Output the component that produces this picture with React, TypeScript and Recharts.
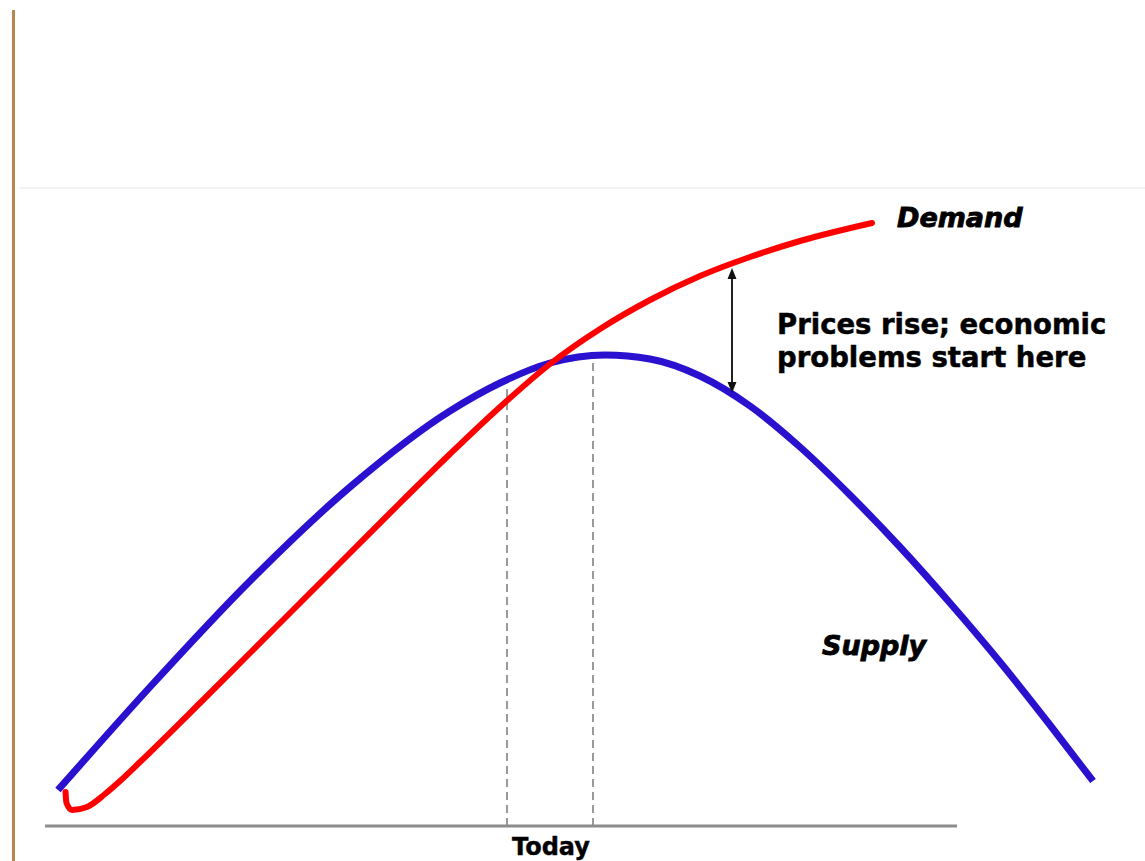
import React from 'react';
import { LineChart, Line, XAxis, YAxis, ReferenceLine, ReferenceDot } from 'recharts';

// Supply curve (time units, level units)
const supplyTime = [1.3, 10.5, 20.5, 30.5, 40.5, 45.5, 50.5, 56.0, 60.5, 65.5, 70.5, 75.5, 80.5, 85.5, 90.5, 95.5, 100.5, 104.8];
const supplyLevel = [3.6, 13.9, 24.5, 33.9, 41.5, 44.3, 46.3, 47.1, 46.7, 45.0, 42.0, 37.9, 33.1, 27.9, 22.3, 16.4, 10.1, 4.5];

// Demand curve
const demandTime = [2.05, 2.15, 2.7, 4.2, 6.0, 7.5, 9.5, 15.5, 20.5, 25.5, 30.5, 35.5, 40.5, 45.5, 50.5, 55.5, 60.5, 65.5, 70.5, 75.5, 82.7];
const demandLevel = [3.4, 2.3, 1.6, 1.9, 3.2, 4.5, 6.4, 12.3, 17.3, 22.3, 27.3, 32.3, 37.2, 41.9, 46.2, 49.7, 52.6, 55.0, 56.9, 58.5, 60.3];

// Axis tick
const tickTimes = [50.6];
const tickLabels = ['Today'];

// Dashed guide lines (time, level where they meet the supply curve)
const guideTimes = [46.2, 54.8];
const guideTops = [44.2, 46.7];

// Gap arrow (time, demand level, supply level)
const gapTime = 68.7;
const gapDemand = 55.8;
const gapSupply = 43.3;

const axisEnd = 91.2;

const supplyData = supplyTime.map((t, i) => ({ t, v: supplyLevel[i] }));
const demandData = demandTime.map((t, i) => ({ t, v: demandLevel[i] }));

const FONT = "'DejaVu Sans', Arial, sans-serif";

const textShape = (lines: string[], italic: boolean, size: number, lh = 33) => (p: any) => (
  <text
    x={p.cx}
    y={p.cy}
    fill="#000"
    stroke="#000"
    strokeWidth={italic ? 0.9 : 0.5}
    fontFamily={FONT}
    fontWeight="bold"
    fontStyle={italic ? 'italic' : 'normal'}
    fontSize={size}
  >
    {lines.map((l, i) => (
      <tspan key={i} x={p.cx} dy={i === 0 ? 0 : lh}>
        {l}
      </tspan>
    ))}
  </text>
);

const arrowShape = (p: any) => {
  const { x1, y1, x2, y2 } = p;
  const top = Math.min(y1, y2);
  const bot = Math.max(y1, y2);
  const x = x1;
  return (
    <g>
      <line x1={x} y1={top + 4} x2={x} y2={bot - 4} stroke="#222" strokeWidth={2} />
      <polygon points={`${x},${top} ${x - 4.5},${top + 11} ${x + 4.5},${top + 11}`} fill="#111" />
      <polygon points={`${x},${bot} ${x - 4.5},${bot - 11} ${x + 4.5},${bot - 11}`} fill="#111" />
    </g>
  );
};

export default function App() {
  return (
    <div style={{ position: 'absolute', left: 0, top: 0, width: 1145, height: 861, background: '#fff' }}>
      <div style={{ position: 'absolute', left: 12, top: 10, width: 3, height: 851, background: '#b8874f' }} />
      <div style={{ position: 'absolute', left: 20, top: 187, width: 1125, height: 2, background: '#f3f3f3' }} />
      <LineChart
        width={1145}
        height={861}
        margin={{ top: 186, right: 50, bottom: 0, left: 45 }}
        style={{ position: 'absolute', left: 0, top: 0 }}
      >
        <XAxis
          type="number"
          dataKey="t"
          domain={[0, 105]}
          ticks={tickTimes}
          tickFormatter={(v: number) => tickLabels[tickTimes.indexOf(v)] ?? ''}
          axisLine={false}
          tickLine={false}
          tickSize={0}
          tickMargin={12}
          height={35}
          interval={0}
          tick={{ fill: '#000', stroke: '#000', strokeWidth: 0.4, fontSize: 24, fontWeight: 'bold', fontFamily: FONT }}
        />
        <YAxis type="number" domain={[0, 64]} hide />
        {guideTimes.map((g, i) => (
          <ReferenceLine
            key={i}
            segment={[{ x: g, y: 0 }, { x: g, y: guideTops[i] }]}
            stroke="#999"
            strokeWidth={2}
            strokeDasharray="8 5"
          />
        ))}
        <ReferenceLine
          segment={[{ x: 0, y: 0 }, { x: axisEnd, y: 0 }]}
          stroke="#8c8c8c"
          strokeWidth={3}
        />
        <Line
          data={supplyData}
          dataKey="v"
          type="monotone"
          stroke="#2a10cf"
          strokeWidth={7}
          dot={false}
          activeDot={false}
          isAnimationActive={false}
        />
        <Line
          data={demandData}
          dataKey="v"
          type="monotone"
          stroke="#ff0000"
          strokeWidth={6}
          strokeLinecap="round"
          dot={false}
          activeDot={false}
          isAnimationActive={false}
        />
        <ReferenceLine
          segment={[{ x: gapTime, y: gapDemand }, { x: gapTime, y: gapSupply }]}
          shape={arrowShape}
        />
        <ReferenceDot x={85.2} y={59.9} r={0} shape={textShape(['Demand'], true, 27)} />
        <ReferenceDot x={77.7} y={17.1} r={0} shape={textShape(['Supply'], true, 27)} />
        <ReferenceDot
          x={73.2}
          y={49.2}
          r={0}
          shape={textShape(['Prices rise; economic', 'problems start here'], false, 27.5)}
        />
      </LineChart>
    </div>
  );
}
